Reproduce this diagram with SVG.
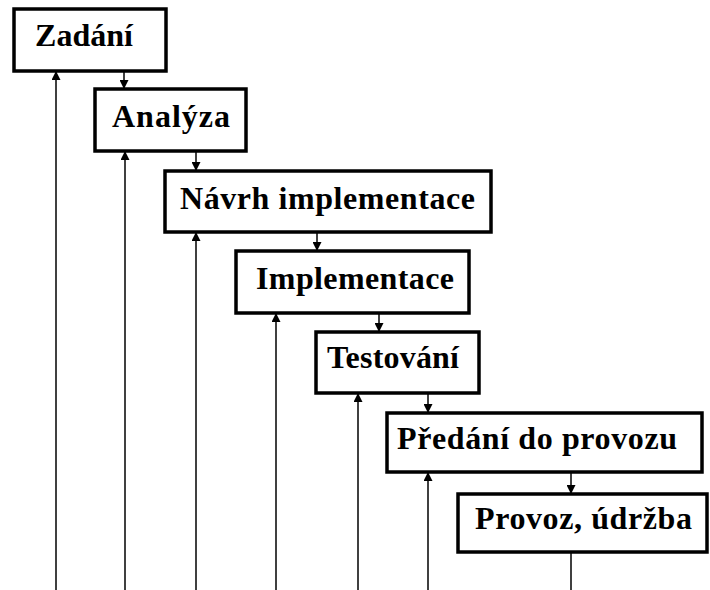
<svg xmlns="http://www.w3.org/2000/svg" width="710" height="590" viewBox="0 0 710 590">
  <style>
    .box { fill: #fff; stroke: #000; stroke-width: 3.5; }
    .lbl { font-family: "Liberation Serif", "Times New Roman", serif; font-weight: bold; font-size: 32px; fill: #000; }
    .ln { stroke: #000; stroke-width: 1.5; fill: none; }
  </style>
  <defs>
    <marker id="arr" viewBox="0 0 10 10" refX="10" refY="5" markerWidth="6" markerHeight="6" markerUnits="strokeWidth" orient="auto">
      <path d="M0,0 L10,5 L0,10 z" fill="#000"/>
    </marker>
  </defs>
  <rect width="710" height="590" fill="#fff"/>

  <!-- connectors -->
  <g id="connectors">
    <!-- forward flow between phases -->
    <line class="ln" x1="124" y1="71" x2="124" y2="89" marker-end="url(#arr)"/>
    <line class="ln" x1="196" y1="151" x2="196" y2="171" marker-end="url(#arr)"/>
    <line class="ln" x1="317" y1="232" x2="317" y2="251" marker-end="url(#arr)"/>
    <line class="ln" x1="379" y1="313" x2="379" y2="332" marker-end="url(#arr)"/>
    <line class="ln" x1="428" y1="393" x2="428" y2="413" marker-end="url(#arr)"/>
    <line class="ln" x1="571" y1="472" x2="571" y2="494" marker-end="url(#arr)"/>
    <!-- feedback lines rising from the bottom -->
    <line class="ln" x1="56" y1="590" x2="56" y2="71" marker-end="url(#arr)"/>
    <line class="ln" x1="125" y1="590" x2="125" y2="151" marker-end="url(#arr)"/>
    <line class="ln" x1="196" y1="590" x2="196" y2="232" marker-end="url(#arr)"/>
    <line class="ln" x1="276" y1="590" x2="276" y2="313" marker-end="url(#arr)"/>
    <line class="ln" x1="358" y1="590" x2="358" y2="393" marker-end="url(#arr)"/>
    <line class="ln" x1="428" y1="590" x2="428" y2="472" marker-end="url(#arr)"/>
    <line class="ln" x1="571" y1="552" x2="571" y2="590"/>
  </g>

  <g id="zadani">
    <rect class="box" x="14" y="9" width="152" height="62"/>
    <text class="lbl" x="35" y="46" textLength="98" lengthAdjust="spacing">Zadání</text>
  </g>
  <g id="analyza">
    <rect class="box" x="95" y="89" width="151" height="62"/>
    <text class="lbl" x="112" y="127" textLength="118" lengthAdjust="spacing">Analýza</text>
  </g>
  <g id="navrh">
    <rect class="box" x="165" y="171" width="326" height="61"/>
    <text class="lbl" x="180" y="209" textLength="295" lengthAdjust="spacing">Návrh implementace</text>
  </g>
  <g id="implementace">
    <rect class="box" x="236" y="251" width="233" height="62"/>
    <text class="lbl" x="256" y="289" textLength="198" lengthAdjust="spacing">Implementace</text>
  </g>
  <g id="testovani">
    <rect class="box" x="316" y="332" width="163" height="61"/>
    <text class="lbl" x="327" y="368" textLength="132" lengthAdjust="spacing">Testování</text>
  </g>
  <g id="predani">
    <rect class="box" x="387" y="413" width="315" height="59"/>
    <text class="lbl" x="397" y="449" textLength="280" lengthAdjust="spacing">Předání do provozu</text>
  </g>
  <g id="provoz">
    <rect class="box" x="458" y="494" width="249" height="58"/>
    <text class="lbl" x="475" y="529" textLength="217" lengthAdjust="spacing">Provoz, údržba</text>
  </g>
</svg>
